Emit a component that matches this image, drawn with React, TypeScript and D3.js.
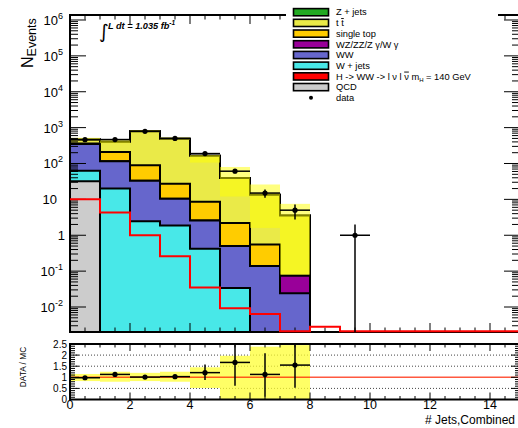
import React from 'react';
import * as d3 from 'd3';

// ---------------- data ----------------
const nBins = 15; // "# Jets" bins 0..15, width 1
const qcd = [32, 0, 0, 0, 0, 0, 0, 0];
const wJets = [31, 20, 2.45, 1.86, 0.42, 0.034, 0, 0];
const ww = [287, 95, 30.5, 8.5, 2.15, 0.47, 0.138, 0.024];
const wzzz = [0, 0, 0, 0, 0, 0, 0, 0.05];
const singleTop = [10, 95, 56, 17, 6, 1.68, 0.41, 0];
const ttbar = [104, 197, 701, 466, 157, 37, 13, 3.5];
const zJets = [0, 0, 0, 0, 0, 0, 0, 0];
const higgs = [10, 4.3, 1.0, 0.26, 0.035, 0.0092, 0.0064, 0, 0.0028];
const dataCounts = [460, 465, 790, 500, 189, 61, 15, 5, 0, 1];
const bandLow = [440, 370, 740, 460, 106, 12, 1.6, 0.08];
const bandHigh = [520, 450, 840, 530, 172, 80, 26, 7.5];

const ratioValues = [0.98, 1.13, 1.01, 1.03, 1.21, 1.67, 1.13, 1.55];
const ratioErrLow = [0.93, 1.07, 0.97, 0.98, 0.88, 0.62, 0.13, 0.53];
const ratioErrHigh = [1.03, 1.19, 1.05, 1.08, 1.58, 2.7, 2.08, 2.48];
const ratioBandLow = [0.83, 0.8, 0.83, 0.8, 0.52, 0, 0, 0];
const ratioBandHigh = [1.15, 1.25, 1.2, 1.25, 1.45, 1.97, 2.38, 2.45];

const xTickValues = [0, 2, 4, 6, 8, 10, 12, 14];
const ratioTickValues = [0, 0.5, 1, 1.5, 2, 2.5];
const ratioTickLabels = ['0', '0.5', '1', '1.5', '2', '2.5'];
const ratioGrid = [0.5, 1.5, 2];
const decades = [-2, -1, 0, 1, 2, 3, 4, 5, 6];

const stackNames = ['QCD', 'W + jets', 'WW', 'WZ/ZZ/Z \u03b3/W \u03b3', 'single top', 't t\u0304', 'Z + jets'];
const stackValues = [qcd, wJets, ww, wzzz, singleTop, ttbar, zJets];
const stackColors = ['#cccccc', '#48e8e8', '#6666cc', '#990099', '#ffcc00', '#eaea48', '#22aa22'];

const FONT = 'Liberation Sans, Arial, Helvetica, sans-serif';

export default function App() {
  const W = 518, H = 428;
  const x = d3.scaleLinear().domain([0, nBins]).range([70, 520]);
  const yMin = 0.00201;
  const y = d3.scaleLog().domain([yMin, 1.378e6]).range([332, 15]);
  const yr = d3.scaleLinear().domain([0, 2.5]).range([399.5, 344]);
  const yb = y.range()[0];
  const yt = y.range()[1];
  const xl = x.range()[0];
  const xr = x.range()[1];
  const rb = yr.range()[0];
  const rt = yr.range()[1];

  const val = (arr: number[], i: number) => (i < arr.length ? arr[i] : 0);
  const yv = (v: number) => (v > yMin ? y(v) : yb);

  // cumulative stacks
  const cum: number[][] = [];
  stackValues.forEach((arr, k) => {
    const c = d3.range(nBins).map((i) => val(arr, i) + (k > 0 ? cum[k - 1][i] : 0));
    cum.push(c);
  });

  const stepFill = (vals: number[]) => {
    let d = `M${x(0)},${yb}`;
    for (let i = 0; i < nBins; i++) {
      const yy = yv(vals[i]);
      d += `L${x(i)},${yy}L${x(i + 1)},${yy}`;
    }
    d += `L${x(nBins)},${yb}Z`;
    return d;
  };

  const higgsPath = (() => {
    let d = '';
    for (let i = 0; i < nBins; i++) {
      const v = val(higgs, i);
      const yy = v > yMin ? y(v) : yb - 0.8;
      d += `${i === 0 ? 'M' : 'L'}${x(i)},${yy}L${x(i + 1)},${yy}`;
    }
    return d;
  })();

  // ticks
  const xMinor = d3.range(0, nBins + 0.001, 0.5);
  const majorY: number[] = decades.map((d) => Math.pow(10, d));
  const minorY: number[] = [];
  for (let d = -3; d <= 6; d++) {
    for (let k = 2; k <= 9; k++) {
      const v = k * Math.pow(10, d);
      if (v >= yMin && v <= y.domain()[1]) minorY.push(v);
    }
  }
  const rMinor = d3.range(0, 2.5001, 0.1);

  const yLabel = (d: number) => {
    const ty = y(Math.pow(10, d));
    if (d === 0) return <text key={d} x={65} y={ty + 5} textAnchor="end" fontSize={13}>1</text>;
    if (d === 1) return <text key={d} x={57} y={ty + 5} textAnchor="end" fontSize={13}>10</text>;
    return (
      <text key={d} x={63} y={ty + 5} textAnchor="end" fontSize={13}>
        10<tspan dy={-6} fontSize={9}>{String(d)}</tspan>
      </text>
    );
  };

  const legendItems = [
    { name: 'Z + jets', color: stackColors[6] },
    { name: 'ttbar', color: stackColors[5] },
    { name: 'single top', color: stackColors[4] },
    { name: stackNames[3], color: stackColors[3] },
    { name: 'WW', color: stackColors[2] },
    { name: 'W + jets', color: stackColors[1] },
    { name: 'higgs', color: '#ff0000' },
    { name: 'QCD', color: stackColors[0] },
    { name: 'data', color: null },
  ];

  return (
    <svg width={W} height={H} style={{ position: 'absolute', left: 0, top: 0, background: '#fff' }} fontFamily={FONT}>
      <rect x={0} y={0} width={W} height={H} fill="#fff" />
      {/* ---------- main pad ---------- */}
      {cum.map((c, k) => k).reverse().map((k) => (
        <path key={'s' + k} d={stepFill(cum[k])} fill={stackColors[k]} stroke="#000" strokeWidth={2} strokeLinejoin="miter" />
      ))}
      {/* MC uncertainty band */}
      {bandLow.map((lo, i) => (
        <rect key={'b' + i} x={x(i)} width={x(i + 1) - x(i)} y={y(bandHigh[i])} height={yv(lo) - y(bandHigh[i])}
          fill="#ffff00" fillOpacity={0.5} />
      ))}
      {/* frame */}
      <rect x={xl} y={yt} width={xr - xl} height={yb - yt} fill="none" stroke="#000" strokeWidth={2} />
      {xMinor.map((v) => {
        const major = Math.abs(v % 2) < 1e-6;
        const len = major ? 9 : 4.5;
        return (
          <g key={'xt' + v}>
            <line x1={x(v)} x2={x(v)} y1={yb} y2={yb - len} stroke="#000" strokeWidth={1} />
            <line x1={x(v)} x2={x(v)} y1={yt} y2={yt + len} stroke="#000" strokeWidth={1} />
          </g>
        );
      })}
      {majorY.map((v) => (
        <g key={'ym' + v}>
          <line x1={xl} x2={xl + 16} y1={y(v)} y2={y(v)} stroke="#000" strokeWidth={1} />
          <line x1={xr} x2={xr - 16} y1={y(v)} y2={y(v)} stroke="#000" strokeWidth={1} />
        </g>
      ))}
      {minorY.map((v) => (
        <g key={'yn' + v}>
          <line x1={xl} x2={xl + 8} y1={y(v)} y2={y(v)} stroke="#000" strokeWidth={1} />
          <line x1={xr} x2={xr - 8} y1={y(v)} y2={y(v)} stroke="#000" strokeWidth={1} />
        </g>
      ))}
      {/* Higgs signal */}
      <path d={higgsPath} fill="none" stroke="#ff0000" strokeWidth={2} />
      {/* data */}
      {dataCounts.map((n, i) => {
        if (n <= 0) return null;
        const cx = x(i + 0.5);
        const e = Math.sqrt(n);
        return (
          <g key={'d' + i}>
            <line x1={x(i)} x2={x(i + 1)} y1={y(n)} y2={y(n)} stroke="#000" strokeWidth={1.5} />
            <line x1={cx} x2={cx} y1={y(n + e)} y2={yv(n - e)} stroke="#000" strokeWidth={1.5} />
            <circle cx={cx} cy={y(n)} r={2.6} fill="#000" />
          </g>
        );
      })}
      {/* y labels */}
      {decades.map((d) => yLabel(d))}
      <text transform={`translate(33,68) rotate(-90)`} fontSize={16}>
        N<tspan dy={3} fontSize={12.5}>Events</tspan>
      </text>
      {/* luminosity */}
      <text x={99} y={38} fontSize={19} fontFamily="DejaVu Sans, sans-serif">{'\u222b'}</text>
      <text x={108} y={28.5} fontSize={9.2} fontWeight="bold" fontStyle="italic">
        L dt = 1.035 fb<tspan dy={-3.5} fontSize={6.5}>-1</tspan>
      </text>
      {/* legend */}
      <rect x={286} y={0} width={212} height={104} fill="#fff" />
      {legendItems.map((it, j) => {
        const cy = 12.2 + j * 10.7;
        let label: React.ReactNode = it.name;
        if (it.name === 'higgs') {
          label = (
            <>
              {'H -> WW -> l \u03bd l '}
              <tspan textDecoration="overline" style={{ textDecoration: 'overline' }}>{'\u03bd'}</tspan>
              {' m'}
              <tspan dy={2} fontSize={6}>H</tspan>
              <tspan dy={-2}>{' = 140 GeV'}</tspan>
            </>
          );
        } else if (it.name === 'ttbar') {
          label = (
            <>
              {'t '}
              <tspan style={{ textDecoration: 'overline' }}>t</tspan>
            </>
          );
        }
        return (
          <g key={'l' + j}>
            {it.color ? (
              <rect x={293.5} y={cy - 3.6} width={35} height={7.2} fill={it.color} stroke="#000" strokeWidth={1.6} />
            ) : (
              <circle cx={311} cy={cy} r={2} fill="#000" />
            )}
            <text x={336} y={cy + 3.2} fontSize={9.3}>{label}</text>
          </g>
        );
      })}

      {/* ---------- ratio pad ---------- */}
      {ratioGrid.map((g) => (
        <line key={'g' + g} x1={xl} x2={xr} y1={yr(g)} y2={yr(g)} stroke="#444" strokeWidth={1} strokeDasharray="1,2" />
      ))}
      {ratioBandLow.map((lo, i) => (
        <rect key={'rb' + i} x={x(i)} width={x(i + 1) - x(i)} y={yr(Math.min(ratioBandHigh[i], 2.5))}
          height={yr(lo) - yr(Math.min(ratioBandHigh[i], 2.5))} fill="#ffff33" fillOpacity={0.75} />
      ))}
      <line x1={xl} x2={xr} y1={yr(1)} y2={yr(1)} stroke="#ff2200" strokeOpacity={0.75} strokeWidth={1.5} />
      {ratioValues.map((r, i) => {
        const cx = x(i + 0.5);
        return (
          <g key={'r' + i}>
            <line x1={x(i)} x2={x(i + 1)} y1={yr(r)} y2={yr(r)} stroke="#000" strokeWidth={1.5} />
            <line x1={cx} x2={cx} y1={yr(Math.min(ratioErrHigh[i], 2.5))} y2={yr(ratioErrLow[i])} stroke="#000" strokeWidth={1.5} />
            <circle cx={cx} cy={yr(r)} r={2.6} fill="#000" />
          </g>
        );
      })}
      <rect x={xl} y={rt} width={xr - xl} height={rb - rt} fill="none" stroke="#000" strokeWidth={2} />
      {xMinor.map((v) => {
        const major = Math.abs(v % 2) < 1e-6;
        const len = major ? 7 : 3.5;
        return (
          <g key={'rxt' + v}>
            <line x1={x(v)} x2={x(v)} y1={rb} y2={rb - len} stroke="#000" strokeWidth={1} />
            <line x1={x(v)} x2={x(v)} y1={rt} y2={rt + len} stroke="#000" strokeWidth={1} />
          </g>
        );
      })}
      {rMinor.map((v, j) => {
        const major = j % 5 === 0;
        const len = major ? 9 : 5;
        return (
          <g key={'ryt' + j}>
            <line x1={xl} x2={xl + len} y1={yr(v)} y2={yr(v)} stroke="#000" strokeWidth={1} />
            <line x1={xr} x2={xr - len} y1={yr(v)} y2={yr(v)} stroke="#000" strokeWidth={1} />
          </g>
        );
      })}
      {ratioTickValues.map((v, j) => (
        <text key={'rl' + j} x={67} y={yr(v) + 3.5} textAnchor="end" fontSize={10}>{ratioTickLabels[j]}</text>
      ))}
      {xTickValues.map((v) => (
        <text key={'xl' + v} x={x(v)} y={409} textAnchor="middle" fontSize={12.5}>{String(v)}</text>
      ))}
      <text x={425} y={424} fontSize={12}># Jets,Combined</text>
      <text transform={`translate(26,367) rotate(-90)`} textAnchor="middle" fontSize={8.3}>DATA / MC</text>
    </svg>
  );
}
